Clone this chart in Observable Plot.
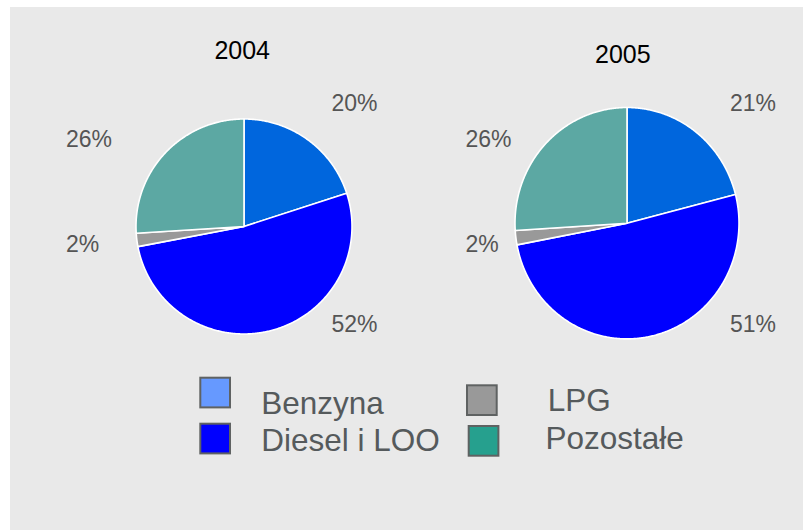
<!DOCTYPE html>
<html>
<head>
<meta charset="utf-8">
<script src="https://cdn.jsdelivr.net/npm/d3@7"></script>
<script src="https://cdn.jsdelivr.net/npm/@observablehq/plot@0.6"></script>
<style>
  html, body { margin: 0; padding: 0; background: #ffffff; }
  #chart { position: absolute; left: 10px; top: 7px; width: 793px; height: 523px; background: #e9e9e9; }
  #chart svg { display: block; background: transparent; }
</style>
</head>
<body>
<div id="chart"></div>
<script>
// ---- data ----
const years = ["2004", "2005"];
const categories = ["Benzyna", "Diesel i LOO", "LPG", "Pozostałe"];
const values2004 = [20, 52, 2, 26];
const values2005 = [21, 51, 2, 26];
const labels2004 = ["20%", "52%", "2%", "26%"];
const labels2005 = ["21%", "51%", "2%", "26%"];
const pieColors = ["#0066dd", "#0000ff", "#999999", "#5ca8a3"];
const legendColors = ["#6699ff", "#0000ff", "#999999", "#26a08e"];

// ---- layout (pixels inside the grey panel) ----
const W = 793, H = 523;
const pieLayout = [
  {cx: 233.5, cy: 219, rx: 108, ry: 107.5, titleX: 231.7, titleY: 51.3, leftX: 55.5, rightX: 321},
  {cx: 616.5, cy: 215.7, rx: 112, ry: 115.7, titleX: 612.3, titleY: 55.3, leftX: 455, rightX: 719.5}
];
const labelSide = ["right", "right", "left", "left"];
const labelRowY = [[103, 324.5, 244.5, 139.7], [103, 324, 244, 139.7]];
const legendLayout = [
  {sx: 189.3, sy: 369.7, tx: 250.7, ty: 406.3},
  {sx: 189.3, sy: 415.7, tx: 250.7, ty: 443.7},
  {sx: 456.0, sy: 377.3, tx: 537.3, ty: 403.7},
  {sx: 457.7, sy: 418.0, tx: 535.0, ty: 441.3}
];
const squareSide = 29.7;

const seriesValues = [values2004, values2005];
const seriesLabels = [labels2004, labels2005];

// ---- build slice polygons from the values ----
const slicePoints = [];
const labelRows = [];
const titleRows = [];
years.forEach((year, yi) => {
  const L = pieLayout[yi];
  const vals = seriesValues[yi];
  const total = d3.sum(vals);
  let cum = 0;
  vals.forEach((v, ci) => {
    const a0 = cum / total * 2 * Math.PI;
    cum += v;
    const a1 = cum / total * 2 * Math.PI;
    const id = year + "-" + categories[ci];
    const color = pieColors[ci];
    slicePoints.push({id, color, x: L.cx, y: L.cy});
    const steps = Math.max(2, Math.ceil((a1 - a0) / (Math.PI / 360)));
    for (let s = 0; s <= steps; s++) {
      const a = a0 + (a1 - a0) * s / steps;
      slicePoints.push({id, color, x: L.cx + L.rx * Math.sin(a), y: L.cy - L.ry * Math.cos(a)});
    }
    slicePoints.push({id, color, x: L.cx, y: L.cy});
    labelRows.push({
      text: seriesLabels[yi][ci],
      x: labelSide[ci] === "right" ? L.rightX : L.leftX,
      y: labelRowY[yi][ci]
    });
  });
  titleRows.push({text: year, x: L.titleX, y: L.titleY});
});

const legendRows = categories.map((c, i) => ({
  name: c,
  color: legendColors[i],
  x1: legendLayout[i].sx + 1,
  x2: legendLayout[i].sx + 1 + squareSide,
  y1: legendLayout[i].sy + 1,
  y2: legendLayout[i].sy + 1 + squareSide,
  tx: legendLayout[i].tx,
  ty: legendLayout[i].ty
}));

const font = "'Liberation Sans', Arial, Helvetica, sans-serif";

const chart = Plot.plot({
  width: W,
  height: H,
  margin: 0,
  style: {background: "transparent", fontFamily: font, overflow: "visible"},
  x: {domain: [0, W], range: [0, W], axis: null},
  y: {domain: [0, H], range: [0, H], axis: null},
  color: {type: "identity"},
  marks: [
    Plot.line(slicePoints, {
      x: "x", y: "y", z: "id", fill: "color",
      stroke: "#ffffff", strokeWidth: 1.6, strokeLinejoin: "round", curve: "linear"
    }),
    Plot.text(labelRows, {
      x: "x", y: "y", text: "text", textAnchor: "start", lineAnchor: "bottom",
      fontSize: 23, fill: "#555555", fontFamily: font
    }),
    Plot.text(titleRows, {
      x: "x", y: "y", text: "text", textAnchor: "middle", lineAnchor: "bottom",
      fontSize: 25, fill: "#000000", fontFamily: font
    }),
    Plot.rect(legendRows, {
      x1: "x1", x2: "x2", y1: "y1", y2: "y2", fill: "color",
      stroke: "#5f6262", strokeWidth: 2
    }),
    Plot.text(legendRows, {
      x: "tx", y: "ty", text: "name", textAnchor: "start", lineAnchor: "bottom",
      fontSize: 31.5, fill: "#555a5c", fontFamily: font
    })
  ]
});

document.getElementById("chart").appendChild(chart);
</script>
</body>
</html>
